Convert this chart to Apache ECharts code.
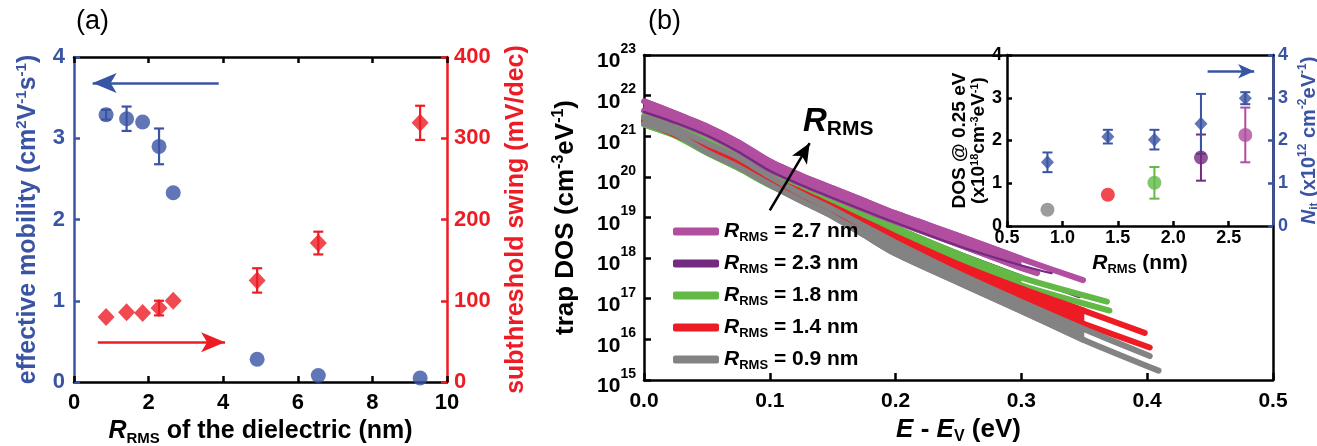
<!DOCTYPE html>
<html><head><meta charset="utf-8">
<script src="https://cdn.jsdelivr.net/npm/echarts@6/dist/echarts.min.js"></script>
<style>html,body{margin:0;padding:0;background:#fff}#c{width:1317px;height:446px}</style>
</head><body><div id="c"></div>
<script>
// ---------- Panel (a) data ----------
const rmsA        = [0.86, 1.41, 1.84, 2.28, 2.66, 4.91, 6.55, 9.28];
const mobility    = [3.29, 3.24, 3.20, 2.90, 2.33, 0.28, 0.08, 0.05];
const mobilityErr = [0.06, 0.15, 0, 0.22, 0, 0, 0, 0];
const swing       = [80, 86, 85, 91, 100, 125, 171, 319];
const swingErr    = [0, 0, 0, 9, 0, 15, 14, 21];
const arrowMob    = [[3.88, 3.68], [0.5, 3.68]];
const arrowSwing  = [[0.64, 49], [4.05, 49]];

// ---------- Panel (b) data: trap DOS curves (log10 of cm^-3 eV^-1) ----------
const pinkUpE  = [0, 0.025, 0.05, 0.075, 0.1, 0.125, 0.15, 0.175, 0.2, 0.25, 0.3, 0.349];
const pinkUp   = [21.86, 21.56, 21.24, 20.85, 20.38, 20.03, 19.72, 19.41, 19.10, 18.55, 17.98, 17.46];
const pinkLoE  = [0, 0.025, 0.05, 0.075, 0.1, 0.125, 0.15, 0.175, 0.2, 0.25, 0.3, 0.3125];
const pinkLo   = [21.63, 21.36, 21.05, 20.65, 20.18, 19.83, 19.51, 19.20, 18.90, 18.34, 17.76, 17.63];
const purpUpE  = [0, 0.025, 0.05, 0.075, 0.1, 0.125, 0.15, 0.175, 0.2, 0.25, 0.3, 0.324];
const purpUp   = [21.60, 21.33, 21.02, 20.62, 20.15, 19.80, 19.48, 19.17, 18.87, 18.30, 17.82, 17.63];
const purpLoE  = [0, 0.05, 0.1, 0.15, 0.2, 0.3, 0.346];
const purpLo   = [21.45, 20.85, 20.00, 19.30, 18.72, 17.55, 17.05];
const greenUpE = [0, 0.025, 0.05, 0.075, 0.1, 0.125, 0.15, 0.175, 0.2, 0.25, 0.3, 0.368];
const greenUp  = [21.50, 21.22, 20.88, 20.50, 20.05, 19.70, 19.35, 19.05, 18.74, 18.10, 17.52, 16.93];
const greenLoE = [0, 0.025, 0.05, 0.075, 0.1, 0.125, 0.15, 0.175, 0.2, 0.25, 0.3, 0.37];
const greenLo  = [21.29, 21.01, 20.60, 20.22, 19.80, 19.45, 19.12, 18.83, 18.56, 17.93, 17.33, 16.71];
const redUpE   = [0, 0.05, 0.1, 0.125, 0.15, 0.175, 0.2, 0.25, 0.3, 0.35, 0.398];
const redUp    = [21.40, 20.75, 19.96, 19.63, 19.27, 18.90, 18.54, 17.85, 17.25, 16.70, 16.16];
const redLoE   = [0, 0.05, 0.1, 0.125, 0.15, 0.175, 0.2, 0.25, 0.3, 0.35, 0.402];
const redLo    = [21.36, 20.70, 19.88, 19.52, 19.15, 18.80, 18.45, 17.70, 16.98, 16.38, 15.80];
const grayUpE  = [0, 0.025, 0.05, 0.075, 0.1, 0.125, 0.15, 0.175, 0.2, 0.25, 0.3, 0.35, 0.402];
const grayUp   = [21.45, 21.19, 20.83, 20.48, 20.01, 19.58, 19.20, 18.79, 18.38, 17.62, 16.92, 16.25, 15.59];
const grayLoE  = [0, 0.025, 0.05, 0.075, 0.1, 0.125, 0.15, 0.175, 0.2, 0.25, 0.3, 0.35, 0.409];
const grayLo   = [21.31, 21.06, 20.61, 20.24, 19.81, 19.41, 19.03, 18.57, 18.11, 17.40, 16.70, 15.98, 15.23];
const legendNames = ['2.7', '2.3', '1.8', '1.4', '0.9'];
const arrowRms = [[0.1, 1.5e19], [0.1317, 6.8e20]];

// ---------- Inset data ----------
const rmsB    = [0.865, 1.41, 1.83, 2.25, 2.65];
const dos025  = [0.38, 0.73, 1.01, 1.60, 2.13];
const dosErr  = [0, 0, 0.37, 0.54, 0.64];
const nit     = [1.49, 2.09, 2.02, 2.39, 2.99];
const nitErr  = [0.23, 0.16, 0.23, 0.70, 0.14];
const arrowNit = [[2.31, 3.62], [2.73, 3.62]];

// ---------- styles ----------
const FONT = '"Liberation Sans", Arial, Helvetica, sans-serif';
const BLUE = '#3a54a4', RED = '#ed1c24', BLACK = '#000';
const PINK = '#b14e9f', PURPLE = '#722b80', GREEN = '#62b946', GRAY = '#838383';
const inColors = [GRAY, RED, GREEN, PURPLE, PINK];
const LW = 6, SMOOTH = 0.25;

function rich(size, color, lh) {
  const sm = Math.round(size * 0.6);
  const L = lh || size + 4;
  return {
    t: {fontFamily: FONT, fontWeight: 'bold', fontSize: size, color, lineHeight: L},
    i: {fontFamily: FONT, fontWeight: 'bold', fontStyle: 'italic', fontSize: size, color, lineHeight: L},
    p: {fontFamily: FONT, fontWeight: 'bold', fontSize: sm, color, verticalAlign: 'top', lineHeight: sm},
    s: {fontFamily: FONT, fontWeight: 'bold', fontSize: sm, color, verticalAlign: 'bottom', lineHeight: sm}
  };
}
function lbl(size, color) { return {fontFamily: FONT, fontWeight: 'bold', fontSize: size, color}; }

function errRender(colorFn, cap, lw) {
  return function (params, api) {
    const x = api.value(0), y = api.value(1), e = api.value(2);
    if (!e) return null;
    const a = api.coord([x, y + e]), b = api.coord([x, y - e]);
    const c = colorFn(params.dataIndex);
    const st = {stroke: c, lineWidth: lw};
    return {type: 'group', children: [
      {type: 'line', shape: {x1: a[0], y1: a[1], x2: b[0], y2: b[1]}, style: st},
      {type: 'line', shape: {x1: a[0] - cap, y1: a[1], x2: a[0] + cap, y2: a[1]}, style: st},
      {type: 'line', shape: {x1: b[0] - cap, y1: b[1], x2: b[0] + cap, y2: b[1]}, style: st}
    ]};
  };
}
const pairs = (xs, ys) => xs.map((x, i) => [x, ys[i]]);
const logPairs = (xs, ls) => xs.map((x, i) => [x, Math.pow(10, ls[i])]);

function bandSeries(upE, up, loE, lo, color, end) {
  return {
    type: 'custom', xAxisIndex: 2, yAxisIndex: 2, silent: true, name: 'band' + color,
    data: [[0.1, 1e20]],
    renderItem: function (params, api) {
      if (params.dataIndex !== 0) return null;
      const top = [], bot = [];
      upE.forEach((e, i) => { if (e <= end) top.push(api.coord([e, Math.pow(10, up[i])])); });
      loE.forEach((e, i) => { if (e <= end) bot.push(api.coord([e, Math.pow(10, lo[i])])); });
      return {type: 'group', children: [
        {type: 'polygon', shape: {points: top.concat(bot.slice().reverse())}, style: {fill: color}},
        {type: 'polyline', shape: {points: top, smooth: SMOOTH}, style: {stroke: color, lineWidth: LW, fill: null}},
        {type: 'polyline', shape: {points: bot, smooth: SMOOTH}, style: {stroke: color, lineWidth: LW, fill: null}}
      ]};
    }
  };
}
function lineSeries(name, E, L, color, w) {
  return {
    type: 'line', name, xAxisIndex: 2, yAxisIndex: 2, data: logPairs(E, L),
    symbol: 'none', showSymbol: false, silent: true, smooth: SMOOTH,
    itemStyle: {color}, lineStyle: {color, width: w, cap: 'round', join: 'round'}
  };
}

const curves = [
  lineSeries('p2', purpLoE, purpLo, PURPLE, 3),
  bandSeries(greenUpE, greenUp, greenLoE, greenLo, GREEN, 0.34),
  lineSeries('1.8', greenUpE, greenUp, GREEN, LW),
  lineSeries('g2', greenLoE, greenLo, GREEN, LW),
  bandSeries(redUpE, redUp, redLoE, redLo, RED, 0.37),
  lineSeries('1.4', redUpE, redUp, RED, LW),
  lineSeries('r2', redLoE, redLo, RED, LW),
  bandSeries(grayUpE, grayUp, grayLoE, grayLo, GRAY, 0.38),
  lineSeries('0.9', grayUpE, grayUp, GRAY, LW),
  lineSeries('gr2', grayLoE, grayLo, GRAY, LW),
  bandSeries(pinkUpE, pinkUp, pinkLoE, pinkLo, PINK, 0.3),
  lineSeries('2.7', pinkUpE, pinkUp, PINK, LW),
  lineSeries('pk2', pinkLoE, pinkLo, PINK, LW),
  lineSeries('2.3', purpUpE, purpUp, PURPLE, 2.2)
];
curves[curves.length - 1].markLine = {
  silent: true, animation: false, symbol: ['none', 'arrow'], symbolSize: [13, 20],
  lineStyle: {color: BLACK, width: 2.5, type: 'solid'}, label: {show: false},
  data: [[{coord: arrowRms[0]}, {coord: arrowRms[1]}]]
};

const axLine = (c) => ({show: true, onZero: false, lineStyle: {color: c, width: 2.5}});
const tickIn = (c, len, show = true) => ({show, inside: true, length: len, lineStyle: {color: c, width: 2.5}});

const option = {
  animation: false,
  backgroundColor: '#fff',
  grid: [
    {left: 74, top: 57, width: 373, height: 325, containLabel: false, outerBoundsMode: 'none'},
    {left: 644, top: 55, width: 629, height: 325, containLabel: false, outerBoundsMode: 'none'},
    {left: 1007, top: 55, width: 266, height: 171, containLabel: false, outerBoundsMode: 'none'}
  ],
  xAxis: [
    {gridIndex: 0, type: 'value', min: 0, max: 10, interval: 2, position: 'bottom',
     axisLine: axLine(BLACK), axisTick: tickIn(BLACK, 6), splitLine: {show: false},
     axisLabel: {...lbl(22, BLACK), margin: 10},
     name: '{i|R}{s|RMS}{t| of the dielectric (nm)}', nameLocation: 'middle', nameGap: 33,
     nameTextStyle: {rich: rich(25, BLACK)}},
    {gridIndex: 0, type: 'value', min: 0, max: 10, interval: 2, position: 'top',
     axisLine: axLine(BLACK), axisTick: tickIn(BLACK, 6), axisLabel: {show: false}, splitLine: {show: false}},
    {gridIndex: 1, type: 'value', min: 0, max: 0.5, interval: 0.1, position: 'bottom',
     axisLine: axLine(BLACK), axisTick: tickIn(BLACK, 7), splitLine: {show: false},
     axisLabel: {...lbl(21, BLACK), margin: 11, formatter: v => v.toFixed(1)},
     name: '{i|E}{t| - }{i|E}{s|V}{t| (eV)}', nameLocation: 'middle', nameGap: 34,
     nameTextStyle: {rich: rich(26, BLACK)}},
    {gridIndex: 1, type: 'value', min: 0, max: 0.5, position: 'top',
     axisLine: axLine(BLACK), axisTick: {show: false}, axisLabel: {show: false}, splitLine: {show: false}},
    {gridIndex: 2, type: 'value', min: 0.5, max: 2.9, interval: 0.5, position: 'bottom',
     axisLine: axLine(BLACK), axisTick: tickIn(BLACK, 5), splitLine: {show: false},
     axisLabel: {...lbl(18, BLACK), margin: 3, showMaxLabel: false, formatter: v => v.toFixed(1)},
     name: '{i|R}{s|RMS}{t| (nm)}', nameLocation: 'middle', nameGap: 25,
     nameTextStyle: {rich: rich(21, BLACK)}}
  ],
  yAxis: [
    {gridIndex: 0, type: 'value', min: 0, max: 4, interval: 1, position: 'left',
     axisLine: axLine(BLUE), axisTick: tickIn(BLUE, 6), splitLine: {show: false},
     axisLabel: {...lbl(22, BLUE), margin: 9},
     name: '{t|effective mobility (cm}{p|2}{t|V}{p|-1}{t|s}{p|-1}{t|)}', nameLocation: 'middle', nameGap: 31,
     nameTextStyle: {rich: rich(25, BLUE)}},
    {gridIndex: 0, type: 'value', min: 0, max: 400, interval: 100, position: 'right',
     axisLine: axLine(RED), axisTick: tickIn(RED, 6), splitLine: {show: false},
     axisLabel: {...lbl(22, RED), margin: 7},
     name: '{t|subthreshold swing (mV/dec)}', nameLocation: 'middle', nameGap: 55,
     nameTextStyle: {rich: rich(25, RED)}},
    {gridIndex: 1, type: 'log', logBase: 10, min: 1e15, max: 1e23, splitNumber: 8, position: 'left',
     axisLine: axLine(BLACK), axisTick: tickIn(BLACK, 7), splitLine: {show: false}, minorTick: {show: false},
     axisLabel: {margin: 8, formatter: v => '{b|10}{p|' + Math.round(Math.log10(v)) + '}',
       rich: {b: {...lbl(21, BLACK), lineHeight: 16, verticalAlign: 'bottom'},
              p: {...lbl(14, BLACK), lineHeight: 34, verticalAlign: 'top', padding: [4, 0, 0, 0]}}},
     name: '{t|trap DOS (cm}{p|-3}{t|eV}{p|-1}{t|)}', nameLocation: 'middle', nameGap: 63,
     nameTextStyle: {rich: rich(26, BLACK)}},
    {gridIndex: 1, type: 'value', min: 0, max: 1, position: 'right',
     axisLine: axLine(BLACK), axisTick: {show: false}, axisLabel: {show: false}, splitLine: {show: false}},
    {gridIndex: 2, type: 'value', min: 0, max: 4, interval: 1, position: 'left',
     axisLine: axLine(BLACK), axisTick: tickIn(BLACK, 5), splitLine: {show: false},
     axisLabel: {...lbl(18, BLACK), margin: 5},
     name: '{t|DOS @ 0.25 eV}\n{t|(x10}{p|18}{t|cm}{p|-3}{t|eV}{p|-1}{t|)}', nameLocation: 'middle', nameGap: 4,
     nameTextStyle: {rich: rich(19, BLACK, 19)}},
    {gridIndex: 2, type: 'value', min: 0, max: 4, interval: 1, position: 'right',
     axisLine: axLine(BLUE), axisTick: tickIn(BLUE, 5), splitLine: {show: false},
     axisLabel: {...lbl(18, BLUE), margin: 5},
     name: '{i|N}{s|it}{t| (x10}{p|12}{t| cm}{p|-2}{t|eV}{p|-1}{t|)}', nameLocation: 'middle', nameGap: 24,
     nameTextStyle: {rich: rich(20, BLUE)}}
  ],
  legend: {
    left: 668, top: 216, orient: 'vertical', itemWidth: 46, itemHeight: 8, itemGap: 9,
    icon: 'roundRect', selectedMode: false, data: legendNames,
    formatter: n => '{i|R}{s|RMS}{t| = ' + n + ' nm}',
    textStyle: {rich: rich(21, BLACK)}
  },
  graphic: [
    {type: 'text', left: 76, top: 8, style: {text: '(a)', font: '27px ' + FONT, fill: BLACK}},
    {type: 'text', left: 648, top: 8, style: {text: '(b)', font: '27px ' + FONT, fill: BLACK}},
    {type: 'text', left: 803, top: 105, style: {text: '{r|R}{s|RMS}', rich: {
      r: {fontFamily: FONT, fontWeight: 'bold', fontStyle: 'italic', fontSize: 33, lineHeight: 36, fill: BLACK},
      s: {fontFamily: FONT, fontWeight: 'bold', fontSize: 21, lineHeight: 21, verticalAlign: 'bottom', fill: BLACK}}}}
  ],
  series: [
    {type: 'custom', xAxisIndex: 0, yAxisIndex: 0, silent: true,
     data: rmsA.map((x, i) => [x, mobility[i], mobilityErr[i]]),
     renderItem: errRender(() => BLUE, 5, 2.2)},
    {type: 'scatter', name: 'mob', xAxisIndex: 0, yAxisIndex: 0, data: pairs(rmsA, mobility),
     symbol: 'circle', symbolSize: 15, itemStyle: {color: BLUE}, silent: true,
     markLine: {silent: true, symbol: ['none', 'arrow'], symbolSize: [15, 24],
       lineStyle: {color: BLUE, width: 2.5, type: 'solid'}, label: {show: false},
       data: [[{coord: arrowMob[0]}, {coord: arrowMob[1]}]]}},
    {type: 'custom', xAxisIndex: 0, yAxisIndex: 1, silent: true,
     data: rmsA.map((x, i) => [x, swing[i], swingErr[i]]),
     renderItem: errRender(() => RED, 5, 2.2)},
    {type: 'scatter', name: 'ss', xAxisIndex: 0, yAxisIndex: 1, data: pairs(rmsA, swing),
     symbol: 'diamond', symbolSize: [17, 18], itemStyle: {color: RED}, silent: true,
     markLine: {silent: true, symbol: ['none', 'arrow'], symbolSize: [15, 24],
       lineStyle: {color: RED, width: 2.5, type: 'solid'}, label: {show: false},
       data: [[{coord: arrowSwing[0]}, {coord: arrowSwing[1]}]]}},
    ...curves,
    {type: 'custom', xAxisIndex: 4, yAxisIndex: 4, silent: true,
     data: rmsB.map((x, i) => [x, dos025[i], dosErr[i]]),
     renderItem: errRender(i => inColors[i], 5, 2)},
    {type: 'scatter', name: 'dos', xAxisIndex: 4, yAxisIndex: 4, silent: true,
     data: rmsB.map((x, i) => ({value: [x, dos025[i]], itemStyle: {color: inColors[i]}})),
     symbol: 'circle', symbolSize: 14},
    {type: 'custom', xAxisIndex: 4, yAxisIndex: 5, silent: true,
     data: rmsB.map((x, i) => [x, nit[i], nitErr[i]]),
     renderItem: errRender(() => BLUE, 5, 2)},
    {type: 'scatter', name: 'nit', xAxisIndex: 4, yAxisIndex: 5, data: pairs(rmsB, nit), silent: true,
     symbol: 'diamond', symbolSize: [13, 14], itemStyle: {color: BLUE},
     markLine: {silent: true, symbol: ['none', 'arrow'], symbolSize: [11, 16],
       lineStyle: {color: BLUE, width: 2.5, type: 'solid'}, label: {show: false},
       data: [[{coord: arrowNit[0]}, {coord: arrowNit[1]}]]}}
  ]
};
const chart = echarts.init(document.getElementById('c'), null, {renderer: 'canvas'});
chart.setOption(option);
</script></body></html>
